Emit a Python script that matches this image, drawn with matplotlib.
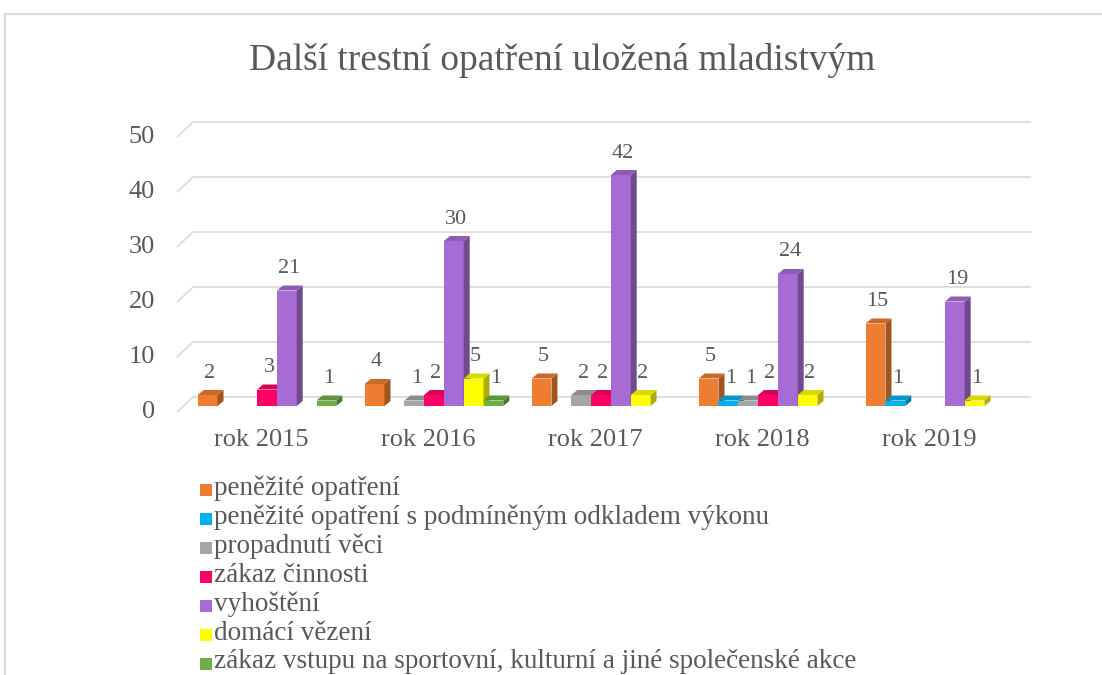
import matplotlib
matplotlib.use('Agg')
import matplotlib.pyplot as plt
import matplotlib.colors as mcolors
from matplotlib.patches import Polygon, Rectangle
from matplotlib.lines import Line2D
import numpy as np

title = 'Další trestní opatření uložená mladistvým'
years = ['rok 2015', 'rok 2016', 'rok 2017', 'rok 2018', 'rok 2019']
series = ['peněžité opatření',
          'peněžité opatření s podmíněným odkladem výkonu',
          'propadnutí věci',
          'zákaz činnosti',
          'vyhoštění',
          'domácí vězení',
          'zákaz vstupu na sportovní, kulturní a jiné společenské akce']
colors = ['#ED7D31', '#00B0F0', '#A5A5A5', '#FF0066', '#A66CD3', '#FFFF00', '#70AD47']

# 0 = no bar in the source chart
penezite = [2, 4, 5, 5, 15]
penezite_podm = [0, 0, 0, 1, 1]
propadnuti = [0, 1, 2, 1, 0]
zakaz_cinnosti = [3, 2, 2, 2, 0]
vyhosteni = [21, 30, 42, 24, 19]
domaci_vezeni = [0, 5, 2, 2, 1]
zakaz_vstupu = [1, 1, 0, 0, 0]
data = [penezite, penezite_podm, propadnuti, zakaz_cinnosti, vyhosteni, domaci_vezeni, zakaz_vstupu]

yticks = [0, 10, 20, 30, 40, 50]

plt.rcParams['font.family'] = ['Liberation Serif', 'DejaVu Serif']
text_color = '#595959'
grid_color = '#D9D9D9'

W, H = 1102, 675
fig = plt.figure(figsize=(W / 100, H / 100), dpi=100)

# axes: front face scale, value 0 at pixel row 406, 50 at row 131
ax = fig.add_axes([177 / W, (H - 406) / H, 854 / W, 275 / H])
x0, x1 = -0.539, 4.575
ax.set_xlim(x0, x1)
ax.set_ylim(0, 50)
ax.axis('off')

px_x = 854 / (x1 - x0)   # pixels per x unit
px_y = 275 / 50          # pixels per y unit


def dx(p):
    return p / px_x


def dy(p):
    return p / px_y


# back wall gridlines with slanted side-wall part
for v in yticks:
    ax.plot([x0, x0 + dx(16), x1], [v - dy(6), v + dy(9), v + dy(9)],
            color=grid_color, lw=1.2, zorder=0, clip_on=False, solid_capstyle='butt')
    ax.text(x0 - dx(22), v - dy(6), str(v), ha='right', va='center',
            fontsize=19, color=text_color)


def shade(c, f):
    r, g, b = mcolors.to_rgb(c)
    return (r * f, g * f, b * f)


slot = 19.8 / px_x
n = len(series)
depth_x, depth_y = dx(6), dy(5)

for g in range(len(years)):
    for k in range(n):
        v = data[k][g]
        if v == 0:
            continue
        xc = g + (k - (n - 1) / 2) * slot
        xl, xr = xc - slot / 2, xc + slot / 2
        c = colors[k]
        ax.bar(xc, v, width=slot, color=c, zorder=2 + k, clip_on=False)
        side = Polygon([(xr, 0), (xr, v), (xr + depth_x, v + depth_y), (xr + depth_x, depth_y)],
                       closed=True, facecolor=shade(c, 0.68), edgecolor='none',
                       zorder=2 + k, clip_on=False)
        top = Polygon([(xl, v), (xr, v), (xr + depth_x, v + depth_y), (xl + depth_x, v + depth_y)],
                      closed=True, facecolor=shade(c, 0.85), edgecolor='none',
                      zorder=2 + k, clip_on=False)
        ax.add_patch(side)
        ax.add_patch(top)
        ax.text(xc + dx(2), v + dy(22), str(v), ha='center', va='center',
                fontsize=16, color=text_color, zorder=20)

for g, name in enumerate(years):
    ax.text(g - dx(6), -dy(34), name, ha='center', va='center',
            fontsize=19, color=text_color)

fig.text(562 / W, 1 - 60 / H, title, ha='center', va='center',
         fontsize=27, color=text_color)

# legend
for k, name in enumerate(series):
    yc = 488 + 29 * k
    fig.patches.append(Rectangle((200 / W, 1 - (yc + 8) / H), 12 / W, 12 / H,
                                 transform=fig.transFigure, facecolor=colors[k],
                                 edgecolor='none'))
    fig.text(214 / W, 1 - yc / H, name, ha='left', va='center',
             fontsize=19.5, color=text_color)

# chart area border
fig.add_artist(Line2D([5 / W, 5 / W, 1], [0, 1 - 14 / H, 1 - 14 / H],
                      transform=fig.transFigure, color=grid_color, lw=1.5))

fig.savefig('out.png', dpi=100)
